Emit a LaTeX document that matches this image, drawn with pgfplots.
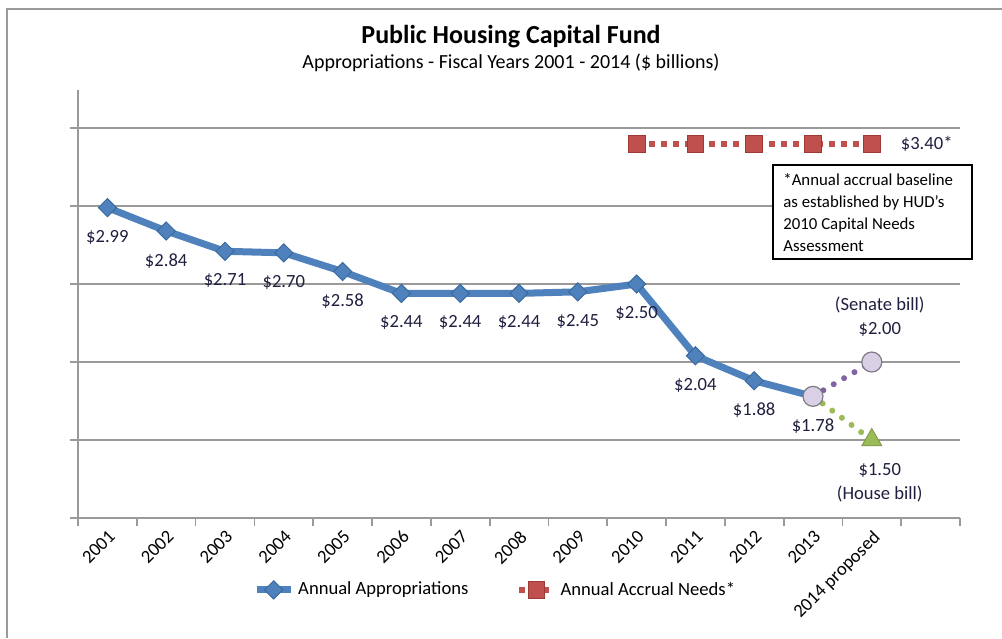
\documentclass[border=0pt]{standalone}
\usepackage{fontspec}
\setmainfont{Carlito}
\usepackage{pgfplots}
\pgfplotsset{compat=1.18}

\definecolor{appblue}{HTML}{4F81BD}
\definecolor{appedge}{HTML}{3A6A9E}
\definecolor{needred}{HTML}{C0504D}
\definecolor{neededge}{HTML}{9A3B39}
\definecolor{senpurple}{HTML}{8064A2}
\definecolor{senfill}{HTML}{D9D0E6}
\definecolor{housegreen}{HTML}{9BBB59}
\definecolor{gridgray}{HTML}{9A9A9A}
\definecolor{labelink}{HTML}{1F1F3F}

\newcommand{\lbl}{\fontsize{9.3}{11}\selectfont}

\begin{document}
\begin{tikzpicture}
\begin{axis}[
  scale only axis, width=441pt, height=214pt,
  xmin=-0.5, xmax=14.5, ymin=1, ymax=3.744,
  axis x line*=bottom, axis y line*=left,
  axis line style={draw=gridgray, line width=0.9pt},
  xtick={0,...,13},
  xticklabels={2001,2002,2003,2004,2005,2006,2007,2008,2009,2010,2011,2012,2013,2014 proposed},
  major x tick style={draw=none},
  minor xtick={-0.5,0.5,...,14.5},
  minor x tick style={draw=gridgray, line width=0.9pt},
  ytick={1,1.5,...,3.5}, yticklabels={},
  ytick style={draw=gridgray, line width=0.9pt},
  ymajorgrids, grid style={draw=gridgray, line width=0.9pt},
  tick align=outside, major tick length=4pt, minor tick length=4pt,
  xticklabel style={rotate=45, anchor=north east, font=\lbl, inner sep=1pt, text=black},
  clip=false,
  legend style={at={(0.474,-0.168)}, anchor=center, draw=none, fill=none,
    font=\lbl, legend columns=2, inner sep=0pt,
    /tikz/every even column/.append style={column sep=22pt}},
  legend cell align=left,
]
% Annual appropriations
\addplot[appblue, line width=3.5pt, mark=square*, mark size=3.2pt,
  mark options={rotate=45, fill=appblue, draw=appedge, line width=0.5pt},
  nodes near coords={\$\pgfmathprintnumber[fixed,fixed zerofill,precision=2,assume math mode=true]{\pgfplotspointmeta}},
  every node near coord/.style={anchor=north, yshift=-11pt, inner sep=0pt, font=\lbl, text=labelink}]
  coordinates {(0,2.99) (1,2.84) (2,2.71) (3,2.70) (4,2.58) (5,2.44) (6,2.44)
    (7,2.44) (8,2.45) (9,2.50) (10,2.04) (11,1.88) (12,1.78)};
\addlegendentry{Annual Appropriations}
% Annual accrual needs
\addplot[needred, line width=3pt, dash pattern=on 3pt off 3pt,
  mark=square*, mark size=4.2pt,
  mark options={solid, fill=needred, draw=neededge, line width=0.5pt}]
  coordinates {(9,3.40) (10,3.40) (11,3.40) (12,3.40) (13,3.40)};
\addlegendentry{Annual Accrual Needs*}
% House bill
\addplot[forget plot, housegreen, line width=3pt, line cap=round,
  dash pattern=on 0pt off 6pt, mark=triangle*, mark size=5.8pt, mark indices={3},
  mark options={solid, fill=housegreen, draw=housegreen!80!black, line width=0.4pt}]
  coordinates {(12,1.78) (12.5,1.64) (13,1.50)};
% Senate bill
\addplot[forget plot, senpurple, line width=3pt, line cap=round,
  dash pattern=on 0pt off 6pt, mark=*, mark size=5pt, mark indices={1,3},
  mark options={solid, fill=senfill, draw=gray!80!senpurple, line width=0.6pt}]
  coordinates {(12,1.78) (12.5,1.89) (13,2.00)};

\node[anchor=west, font=\lbl, text=labelink, xshift=11pt] at (axis cs:13,3.40) {\$3.40*};
\node[anchor=south, align=center, font=\lbl, text=labelink, yshift=9pt, xshift=4pt]
  at (axis cs:13,2.00) {(Senate bill)\\[1pt]\$2.00};
\node[anchor=north, align=center, font=\lbl, text=labelink, yshift=-8pt, xshift=4pt]
  at (axis cs:13,1.50) {\$1.50\\[1pt](House bill)};
\end{axis}

\begin{scope}[x=0.5pt, y=-0.5pt, shift={(-39pt,259pt)}]
  \draw[gridgray, line width=1pt] (7,638) -- (7,9) -- (1002,9);
  \node[font=\fontsize{13}{15}\selectfont\bfseries] at (511,37) {Public Housing Capital Fund};
  \node[font=\fontsize{10}{12}\selectfont] at (511,63) {Appropriations - Fiscal Years 2001 - 2014 (\$ billions)};
  \draw[black, line width=0.6pt, fill=white] (773,165) rectangle (972,259);
  \node[anchor=north west, align=left, inner sep=0pt,
    font=\fontsize{8.4}{11}\selectfont] at (783,173)
    {*Annual accrual baseline\\as established by HUD's\\2010 Capital Needs\\Assessment};
  \pgfresetboundingbox
  \path[use as bounding box] (0,0) rectangle (1002,638);
\end{scope}
\end{tikzpicture}
\end{document}
